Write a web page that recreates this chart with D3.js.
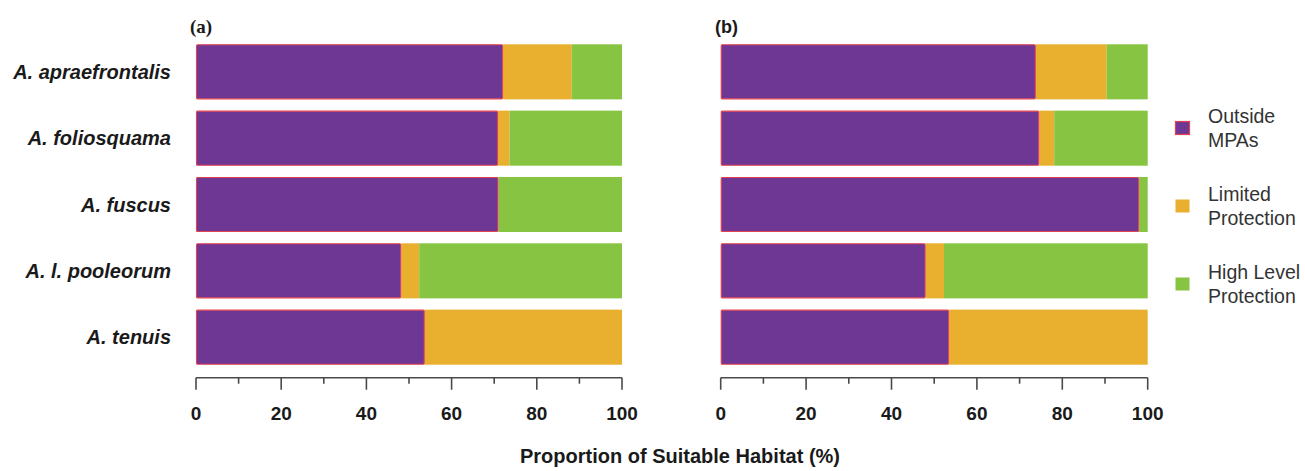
<!DOCTYPE html>
<html>
<head>
<meta charset="utf-8">
<script src="https://cdn.jsdelivr.net/npm/d3@7/dist/d3.min.js"></script>
<style>
  html, body { margin: 0; padding: 0; background: #ffffff; }
  svg { display: block; }
</style>
</head>
<body>
<svg id="chart" width="1305" height="471"></svg>
<script>
// ---- data ----
const categories = ["A. apraefrontalis", "A. foliosquama", "A. fuscus", "A. l. pooleorum", "A. tenuis"];
const seriesNames = ["Outside MPAs", "Limited Protection", "High Level Protection"];
const legendLines = [["Outside", "MPAs"], ["Limited", "Protection"], ["High Level", "Protection"]];
// panel (a)
const outsideA = [72.1, 70.9, 71.0, 48.2, 53.7];
const limitedA = [16.1, 2.7, 0.0, 4.2, 46.3];
const highA    = [11.8, 26.4, 29.0, 47.6, 0.0];
// panel (b)
const outsideB = [73.8, 74.6, 98.0, 48.0, 53.5];
const limitedB = [16.6, 3.5, 0.0, 4.3, 46.5];
const highB    = [9.6, 21.9, 2.0, 47.7, 0.0];
const majorTicks = [0, 20, 40, 60, 80, 100];
const minorTicks = [10, 30, 50, 70, 90];
const panelLabels = ["(a)", "(b)"];
const axisTitle = "Proportion of Suitable Habitat (%)";

// ---- styles ----
const colors = ["#6e3794", "#e8b02e", "#86c441"];
const outlineColor = "#e2424f";
const svg = d3.select("#chart");

const y = d3.scaleBand().domain(categories).range([44.3, 364.7]).paddingInner(0.17).paddingOuter(0);

const panels = [
  { x0: 196, x1: 622, data: [outsideA, limitedA, highA], label: panelLabels[0], labelFont: "'Liberation Serif', 'Times New Roman', serif", labelX: 190, labelSize: 19, showY: true },
  { x0: 720.7, x1: 1147.7, data: [outsideB, limitedB, highB], label: panelLabels[1], labelFont: "'Liberation Sans', Arial, sans-serif", labelX: 715, labelSize: 18, showY: false }
];

panels.forEach(p => {
  const x = d3.scaleLinear().domain([0, 100]).range([p.x0, p.x1]);
  const g = svg.append("g");
  const rows = categories.map((c, i) => {
    const vals = p.data.map(s => s[i]);
    let acc = 0;
    return vals.map((v, k) => { const seg = { cat: c, k, start: acc, end: acc + v }; acc += v; return seg; });
  });
  const segs = rows.flat().filter(s => s.end - s.start > 0);
  g.selectAll("rect.seg").data(segs.filter(s => s.k > 0)).join("rect")
    .attr("class", "seg")
    .attr("x", s => x(s.start))
    .attr("y", s => y(s.cat))
    .attr("width", s => x(s.end) - x(s.start))
    .attr("height", y.bandwidth())
    .attr("fill", s => colors[s.k]);
  g.selectAll("rect.out").data(segs.filter(s => s.k === 0)).join("rect")
    .attr("class", "out")
    .attr("x", s => x(s.start) + 0.5)
    .attr("y", s => y(s.cat) + 0.5)
    .attr("width", s => x(s.end) - x(s.start) - 1)
    .attr("height", y.bandwidth() - 1)
    .attr("rx", 1)
    .attr("fill", colors[0])
    .attr("stroke", outlineColor)
    .attr("stroke-width", 1.1);

  // axis
  const axisY = 377.7;
  const ax = svg.append("g").attr("transform", `translate(0,${axisY})`);
  ax.append("line").attr("x1", x(0)).attr("x2", x(100)).attr("y1", 0).attr("y2", 0)
    .attr("stroke", "#4a4a4a").attr("stroke-width", 1.6);
  ax.selectAll("line.maj").data(majorTicks).join("line").attr("class", "maj")
    .attr("x1", d => x(d)).attr("x2", d => x(d)).attr("y1", 0).attr("y2", 12)
    .attr("stroke", "#4a4a4a").attr("stroke-width", 1.6);
  ax.selectAll("line.min").data(minorTicks).join("line").attr("class", "min")
    .attr("x1", d => x(d)).attr("x2", d => x(d)).attr("y1", 0).attr("y2", 6)
    .attr("stroke", "#4a4a4a").attr("stroke-width", 1.6);
  ax.selectAll("text").data(majorTicks).join("text")
    .attr("x", d => x(d)).attr("y", 42.5)
    .attr("text-anchor", "middle")
    .attr("font-family", "'Liberation Sans', Arial, sans-serif")
    .attr("font-weight", "bold").attr("font-size", 19)
    .attr("fill", "#1a1a1a")
    .text(d => d);

  // panel label
  svg.append("text").attr("x", p.labelX).attr("y", 33)
    .attr("font-family", p.labelFont).attr("font-weight", "bold")
    .attr("font-size", p.labelSize).attr("fill", "#1a1a1a").text(p.label);

  if (p.showY) {
    svg.append("g").selectAll("text").data(categories).join("text")
      .attr("x", 171).attr("y", d => y(d) + y.bandwidth() / 2)
      .attr("dy", "0.35em")
      .attr("text-anchor", "end")
      .attr("font-family", "'Liberation Sans', Arial, sans-serif")
      .attr("font-weight", "bold").attr("font-style", "italic")
      .attr("font-size", 20).attr("fill", "#1a1a1a")
      .text(d => d);
  }
});

// axis title
svg.append("text").attr("x", 680).attr("y", 463)
  .attr("text-anchor", "middle")
  .attr("font-family", "'Liberation Sans', Arial, sans-serif")
  .attr("font-weight", "bold").attr("font-size", 20).attr("fill", "#1a1a1a")
  .text(axisTitle);

// legend
const legY = d3.scalePoint().domain(seriesNames).range([128, 284]);
const leg = svg.append("g");
seriesNames.forEach((s, i) => {
  const cy = legY(s);
  leg.append("rect").attr("x", 1175.5).attr("y", cy - 6.5).attr("width", 14).attr("height", 13)
    .attr("fill", colors[i])
    .attr("stroke", i === 0 ? outlineColor : "none").attr("stroke-width", 1.2);
  legendLines[i].forEach((t, j) => {
    leg.append("text").attr("x", 1208).attr("y", cy - 12 + j * 24.5)
      .attr("dy", "0.35em")
      .attr("font-family", "'Liberation Sans', Arial, sans-serif")
      .attr("font-size", 19.5).attr("fill", "#333333")
      .text(t);
  });
});
</script>
</body>
</html>
